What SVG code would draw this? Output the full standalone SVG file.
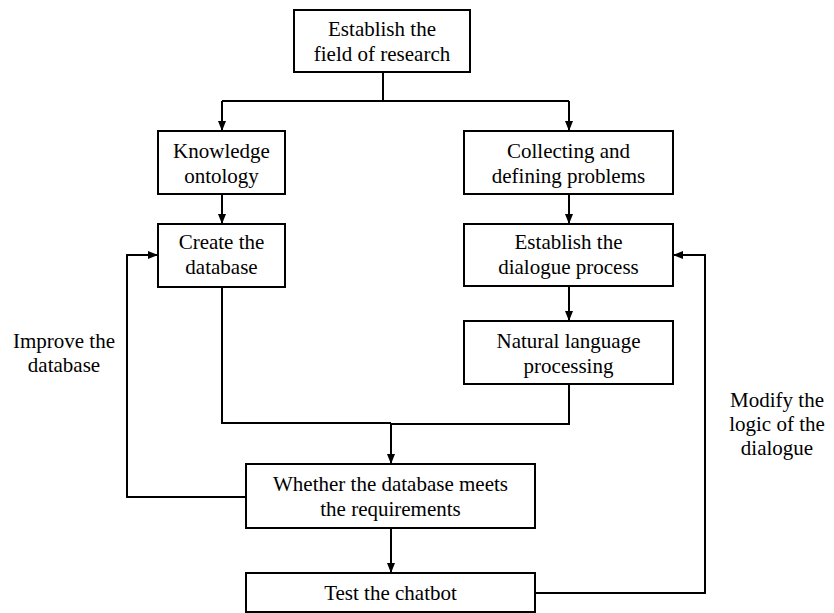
<svg xmlns="http://www.w3.org/2000/svg" width="834" height="613" viewBox="0 0 834 613">
<defs>
<marker id="ah" markerWidth="10" markerHeight="8" refX="10" refY="4" orient="auto" markerUnits="userSpaceOnUse">
<path d="M0,0 L10,4 L0,8 Z" fill="#000"/>
</marker>
</defs>
<style>
.box{fill:#fff;stroke:#000;stroke-width:2}
.t{font-family:'Liberation Serif','Times New Roman',serif;font-size:21px;fill:#000;text-anchor:middle}
.c{fill:none;stroke:#000;stroke-width:2}
</style>
<rect width="834" height="613" fill="#fff"/>
<g id="connectors">
<path class="c" d="M383,72 V101"/>
<path class="c" d="M222,101 H569"/>
<path class="c" d="M222,101 V131" marker-end="url(#ah)"/>
<path class="c" d="M569,101 V131" marker-end="url(#ah)"/>
<path class="c" d="M222,194 V224" marker-end="url(#ah)"/>
<path class="c" d="M569,194 V224" marker-end="url(#ah)"/>
<path class="c" d="M569,286 V321" marker-end="url(#ah)"/>
<path class="c" d="M222,287 V423 H391"/>
<path class="c" d="M569,384 V424 H391"/>
<path class="c" d="M391,423 V464" marker-end="url(#ah)"/>
<path class="c" d="M391,528 V573" marker-end="url(#ah)"/>
<path class="c" d="M246,497 H127 V255 H158" marker-end="url(#ah)"/>
<path class="c" d="M535,593 H705 V255 H673" marker-end="url(#ah)"/>
</g>
<g id="n1"><rect class="box" x="294" y="10" width="176" height="62"/>
<text class="t" x="382" y="36">Establish the</text><text class="t" x="382" y="61">field of research</text></g>
<g id="n2"><rect class="box" x="158" y="131" width="127" height="63"/>
<text class="t" x="221.5" y="158">Knowledge</text><text class="t" x="221.5" y="183">ontology</text></g>
<g id="n3"><rect class="box" x="464" y="131" width="209" height="63"/>
<text class="t" x="568.5" y="158">Collecting and</text><text class="t" x="568.5" y="183">defining problems</text></g>
<g id="n4"><rect class="box" x="158" y="224" width="127" height="63"/>
<text class="t" x="221.5" y="249">Create the</text><text class="t" x="221.5" y="274">database</text></g>
<g id="n5"><rect class="box" x="464" y="224" width="209" height="62"/>
<text class="t" x="568.5" y="249">Establish the</text><text class="t" x="568.5" y="274">dialogue process</text></g>
<g id="n6"><rect class="box" x="464" y="321" width="209" height="63"/>
<text class="t" x="568.5" y="348">Natural language</text><text class="t" x="568.5" y="373">processing</text></g>
<g id="n7"><rect class="box" x="246" y="464" width="289" height="64"/>
<text class="t" x="390.5" y="491">Whether the database meets</text><text class="t" x="390.5" y="516">the requirements</text></g>
<g id="n8"><rect class="box" x="246" y="573" width="289" height="39"/>
<text class="t" x="390.5" y="600">Test the chatbot</text></g>
<g id="l1"><text class="t" x="64" y="348">Improve the</text><text class="t" x="64" y="372">database</text></g>
<g id="l2"><text class="t" x="777" y="407">Modify the</text><text class="t" x="777" y="431">logic of the</text><text class="t" x="777" y="455">dialogue</text></g>
</svg>
